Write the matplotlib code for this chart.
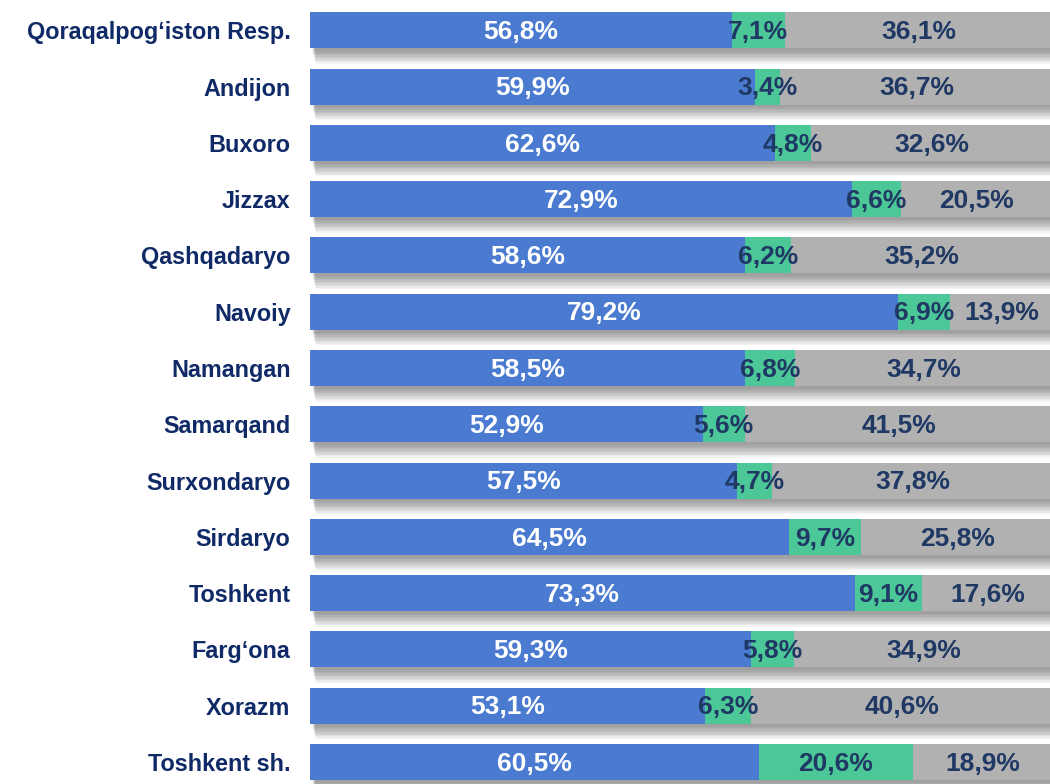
import matplotlib
matplotlib.use("Agg")
import matplotlib.pyplot as plt

categories = ["Qoraqalpog‘iston Resp.", "Andijon", "Buxoro", "Jizzax", "Qashqadaryo",
              "Navoiy", "Namangan", "Samarqand", "Surxondaryo", "Sirdaryo",
              "Toshkent", "Farg‘ona", "Xorazm", "Toshkent sh."]
blue_vals = [56.8, 59.9, 62.6, 72.9, 58.6, 79.2, 58.5, 52.9, 57.5, 64.5, 73.3, 59.3, 53.1, 60.5]
green_vals = [7.1, 3.4, 4.8, 6.6, 6.2, 6.9, 6.8, 5.6, 4.7, 9.7, 9.1, 5.8, 6.3, 20.6]
grey_vals = [36.1, 36.7, 32.6, 20.5, 35.2, 13.9, 34.7, 41.5, 37.8, 25.8, 17.6, 34.9, 40.6, 18.9]

BLUE = "#4A7BD0"
GREEN = "#4CC797"
GREY = "#B1B1B1"
NAVY = "#0F2A66"
DARKTXT = "#1F3864"

fig = plt.figure(figsize=(10.5, 7.84), dpi=100)
ax = fig.add_axes([310/1050, 0, 740/1050, 1])

ys = list(range(len(categories)))
h = 0.64

# soft drop shadow
for k in range(10):
    ax.barh([y + 0.05 + k * 0.025 for y in ys], [100] * len(ys), height=h,
            left=0.3 + k * 0.05, color="black", alpha=0.045, linewidth=0, zorder=1)

ax.barh(ys, blue_vals, height=h, color=BLUE, zorder=3, linewidth=0)
left2 = [b for b in blue_vals]
ax.barh(ys, green_vals, height=h, left=left2, color=GREEN, zorder=3, linewidth=0)
left3 = [b + g for b, g in zip(blue_vals, green_vals)]
ax.barh(ys, grey_vals, height=h, left=left3, color=GREY, zorder=3, linewidth=0)

def fmt(v):
    return f"{v:.1f}%".replace(".", ",")

fs = 19
for y, b, g, r in zip(ys, blue_vals, green_vals, grey_vals):
    yt = y + 0.03
    ax.text(b / 2, yt, fmt(b), ha="center", va="center", color="white",
            fontsize=fs, fontweight="bold", family="Liberation Sans", zorder=5)
    ax.text(b + g / 2, yt, fmt(g), ha="center", va="center", color=DARKTXT,
            fontsize=fs, fontweight="bold", family="Liberation Sans", zorder=5)
    ax.text(b + g + r / 2, yt, fmt(r), ha="center", va="center", color=DARKTXT,
            fontsize=fs, fontweight="bold", family="Liberation Sans", zorder=5)

ax.set_xlim(0, 99.6)
ax.set_ylim(13.39, -0.538)
ax.set_yticks(ys)
ax.set_yticklabels(categories, fontsize=16.8, fontweight="bold", color=NAVY,
                   family="Liberation Sans")
ax.tick_params(axis="y", length=0, pad=14)
ax.set_xticks([])
for s in ax.spines.values():
    s.set_visible(False)

fig.savefig("out.png", dpi=100)
